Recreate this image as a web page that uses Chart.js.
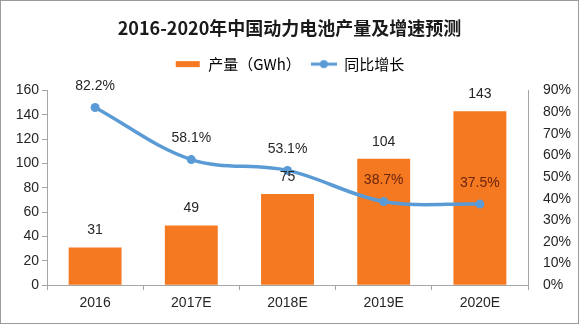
<!DOCTYPE html>
<html>
<head>
<meta charset="utf-8">
<script src="https://cdn.jsdelivr.net/npm/chart.js@4/dist/chart.umd.min.js"></script>
<style>
  html, body { margin: 0; padding: 0; background: #fff; }
  #wrap { width: 579px; height: 324px; }
</style>
</head>
<body>
<div id="wrap"><canvas id="myChart" width="579" height="324"></canvas></div>
<script>
var years = ['2016', '2017E', '2018E', '2019E', '2020E'];
var output = [31, 49, 75, 104, 143];        // 产量（GWh）
var growth = [82.2, 58.1, 53.1, 38.7, 37.5]; // 同比增长 %
var leftTicks = [0, 160, 20];
var rightTicks = [0, 90, 10];

var orange = '#F47920';
var blue = '#5B9BD5';
var axisGrey = '#A6A6A6';
var numFont = "'Liberation Sans', Arial, sans-serif";
var cjkFont = "'Noto Sans CJK SC', 'Liberation Sans', sans-serif";

// little legend markers
function makeMarker(kind) {
  var c = document.createElement('canvas');
  c.width = 26; c.height = 12;
  var g = c.getContext('2d');
  if (kind == 'bar') {
    g.fillStyle = orange;
    g.fillRect(1, 3, 24, 6);
  } else {
    g.strokeStyle = blue;
    g.lineWidth = 3;
    g.beginPath(); g.moveTo(0, 6); g.lineTo(26, 6); g.stroke();
    g.fillStyle = blue;
    g.beginPath(); g.arc(13, 6, 4, 0, Math.PI * 2); g.fill();
  }
  return c;
}
var barMark = makeMarker('bar');
var lineMark = makeMarker('line');

var frame = {
  id: 'frame',
  beforeLayout: function(chart) {
    // a bit more room under the legend
    var lg = chart.legend;
    if (lg && !lg._padded) {
      var fit = lg.fit;
      lg.fit = function() { fit.call(this); this.height += 9; };
      lg._padded = true;
    }
  },
  beforeDraw: function(chart) {
    var c = chart.ctx;
    c.save();
    c.fillStyle = '#fff';
    c.fillRect(0, 0, chart.width, chart.height);
    c.strokeStyle = '#9a9a9a';
    c.lineWidth = 1;
    c.strokeRect(0.5, 0.5, chart.width - 1, chart.height - 1);
    c.restore();
  }
};

var valueLabels = {
  id: 'valueLabels',
  afterDatasetsDraw: function(chart) {
    var c = chart.ctx;
    c.save();
    c.font = '14px ' + numFont;
    c.textAlign = 'center';
    c.textBaseline = 'middle';
    chart.getDatasetMeta(0).data.forEach(function(el, i) {
      c.fillStyle = '#262626';
      c.fillText(output[i], el.x, el.y - 17);
    });
    chart.getDatasetMeta(1).data.forEach(function(el, i) {
      c.fillStyle = i >= 3 ? '#6b2410' : '#262626';
      c.fillText(growth[i].toFixed(1) + '%', el.x, el.y - 21);
    });
    c.restore();
  }
};

var ctx = new Chart(document.getElementById('myChart'), {
  data: {
    labels: years,
    datasets: [{
      type: 'bar',
      label: '产量（GWh）',
      data: output,
      backgroundColor: orange,
      barPercentage: 0.55,
      categoryPercentage: 1.0,
      yAxisID: 'y',
      order: 2
    }, {
      type: 'line',
      label: '同比增长',
      data: growth,
      borderColor: blue,
      backgroundColor: blue,
      borderWidth: 3.5,
      pointRadius: 4.5,
      pointBackgroundColor: blue,
      pointBorderWidth: 0,
      tension: 0.35,
      yAxisID: 'y1',
      order: 1
    }]
  },
  options: {
    responsive: false,
    animation: false,
    layout: { padding: { left: 0, right: 0, top: 0, bottom: 7 } },
    plugins: {
      title: {
        display: true,
        text: '2016-2020年中国动力电池产量及增速预测',
        color: '#1a1a1a',
        font: { family: cjkFont, size: 18, weight: 'bold' },
        padding: { top: 17, bottom: 8 }
      },
      legend: {
        labels: {
          usePointStyle: true,
          pointStyleWidth: 26,
          color: '#262626',
          font: { family: cjkFont, size: 15 },
          padding: 10,
          generateLabels: function(chart) {
            return chart.data.datasets.map(function(ds, i) {
              return {
                text: ds.label,
                pointStyle: i == 0 ? barMark : lineMark,
                fillStyle: 'transparent',
                strokeStyle: 'transparent',
                lineWidth: 0,
                datasetIndex: i,
                hidden: false
              };
            });
          }
        }
      },
      tooltip: { enabled: false }
    },
    scales: {
      x: {
        grid: { display: true, drawOnChartArea: false, color: axisGrey, tickLength: 5 },
        border: { color: axisGrey },
        ticks: { color: '#262626', font: { family: numFont, size: 14 }, padding: 5 }
      },
      y: {
        position: 'left',
        min: leftTicks[0], max: leftTicks[1],
        afterFit: function(s) { s.width = 47; },
        grid: { display: true, drawOnChartArea: false, color: axisGrey, tickLength: 5 },
        border: { color: axisGrey },
        ticks: { stepSize: leftTicks[2], color: '#262626', font: { family: numFont, size: 14 }, padding: 3 }
      },
      y1: {
        position: 'right',
        min: rightTicks[0], max: rightTicks[1],
        afterFit: function(s) { s.width = 51; },
        grid: { display: false },
        border: { color: axisGrey },
        ticks: {
          stepSize: rightTicks[2], color: '#262626', font: { family: numFont, size: 14 }, padding: 7,
          callback: function(v) { return v + '%'; }
        }
      }
    }
  },
  plugins: [frame, valueLabels]
});
</script>
</body>
</html>
